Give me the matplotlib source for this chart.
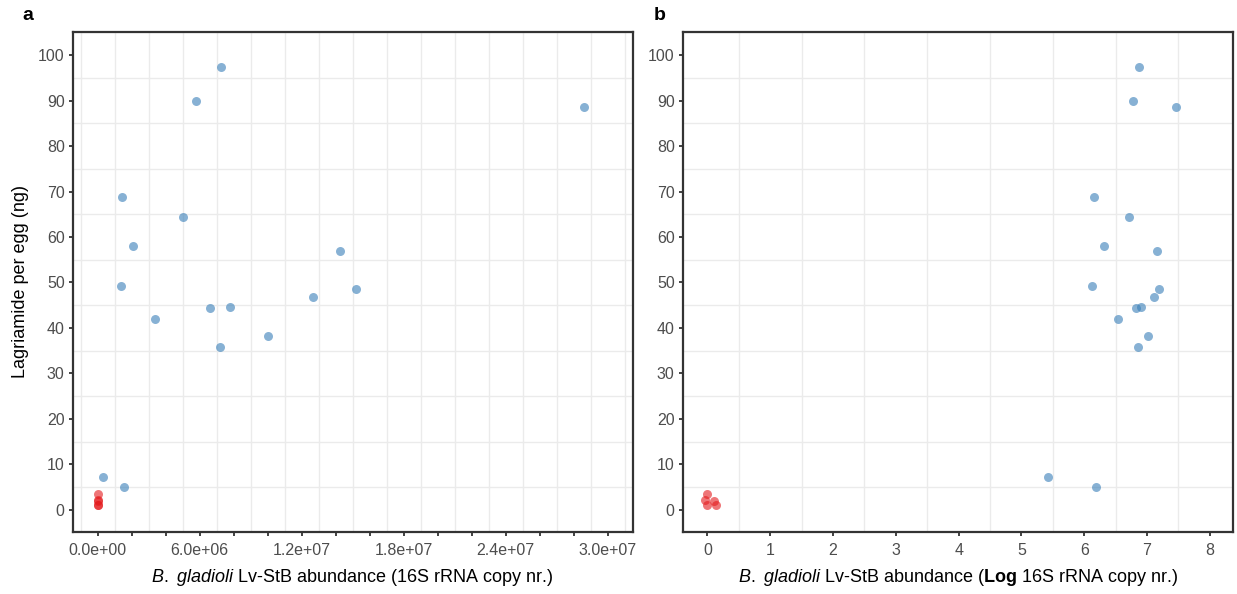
import numpy as np
import matplotlib.pyplot as plt
from matplotlib.ticker import FixedLocator, FuncFormatter

plt.rcParams['font.family'] = ['Liberation Sans', 'DejaVu Sans']
plt.rcParams['mathtext.fontset'] = 'custom'
plt.rcParams['mathtext.rm'] = 'Liberation Sans'
plt.rcParams['mathtext.it'] = 'Liberation Sans:italic'
plt.rcParams['mathtext.bf'] = 'Liberation Sans:bold'

# eggs with symbionts (blue): 16S copies, log10 copies, lagriamide (ng)
abundance = [7.24e6, 5.80e6, 28.6e6, 1.42e6, 5.01e6, 2.09e6, 14.26e6,
             1.37e6, 15.22e6, 12.69e6, 6.58e6, 7.76e6, 3.38e6, 10.03e6,
             7.17e6, 0.28e6, 1.57e6]
log_abundance = [6.87, 6.77, 7.46, 6.15, 6.71, 6.32, 7.16,
                 6.13, 7.19, 7.11, 6.82, 6.90, 6.54, 7.01,
                 6.86, 5.43, 6.19]
lagriamide = [97.3, 89.9, 88.6, 68.9, 64.3, 58.1, 57.0,
              49.3, 48.5, 46.8, 44.4, 44.6, 41.9, 38.3,
              35.9, 7.2, 5.0]

# aposymbiotic eggs (red)
apo_abundance = [0, 0, 0, 0, 0]
apo_log_abundance = [0.0, -0.04, 0.0, 0.10, 0.13]
apo_lagriamide = [3.4, 2.1, 1.0, 1.85, 1.05]

blue = '#377EB8'
red = '#E41A1C'
spine_col = '#333333'
grid_col = '#EBEBEB'

fig = plt.figure(figsize=(12.37, 5.94), dpi=100)
W, H = 1237, 594
ax_a = fig.add_axes([73 / W, 1 - 532 / H, (632.7 - 73) / W, 500 / H])
ax_b = fig.add_axes([683 / W, 1 - 532 / H, (1233 - 683) / W, 500 / H])


def style(ax):
    for s in ax.spines.values():
        s.set_color(spine_col)
        s.set_linewidth(1.6)
    ax.set_ylim(-4.9, 105.1)
    ax.yaxis.set_major_locator(FixedLocator(np.arange(0, 101, 10)))
    ax.yaxis.set_minor_locator(FixedLocator(np.arange(-5, 106, 10)))
    ax.grid(which='minor', color=grid_col, linewidth=1.0)
    ax.grid(which='major', visible=False)
    ax.tick_params(which='major', length=3, width=1.3, color=spine_col,
                   labelcolor='#4D4D4D', labelsize=11.5)
    ax.tick_params(axis='x', pad=5)
    ax.tick_params(axis='y', pad=3)
    ax.tick_params(which='minor', length=0)
    ax.set_axisbelow(True)


# panel a: raw copy numbers
ax_a.scatter(abundance, lagriamide, s=42, color=blue, alpha=0.6, linewidths=0, zorder=3)
ax_a.scatter(apo_abundance, apo_lagriamide, s=42, color=red, alpha=0.6, linewidths=0, zorder=3)
ax_a.set_xlim(-1.46e6, 31.48e6)
ax_a.xaxis.set_major_locator(FixedLocator(np.arange(0, 30.1e6, 2e6)))
ax_a.xaxis.set_minor_locator(FixedLocator(np.arange(-1e6, 31.1e6, 2e6)))
ax_a.xaxis.set_major_formatter(FuncFormatter(
    lambda v, pos: f'{v:.1e}' if round(v / 2e6) % 3 == 0 else ''))
style(ax_a)

# panel b: log copy numbers
ax_b.scatter(log_abundance, lagriamide, s=42, color=blue, alpha=0.6, linewidths=0, zorder=3)
ax_b.scatter(apo_log_abundance, apo_lagriamide, s=42, color=red, alpha=0.6, linewidths=0, zorder=3)
ax_b.set_xlim(-0.39, 8.37)
ax_b.xaxis.set_major_locator(FixedLocator(np.arange(0, 9, 1)))
ax_b.xaxis.set_minor_locator(FixedLocator(np.arange(-0.5, 8.6, 1)))
style(ax_b)

fig.text(21 / W, 1 - 282 / H, 'Lagriamide per egg (ng)', rotation=90,
         ha='center', va='center', fontsize=13)
fig.text(352.5 / W, 1 - 578 / H,
         r'$\it{B.}$ $\it{gladioli}$ Lv-StB abundance (16S rRNA copy nr.)',
         ha='center', va='center', fontsize=13)
fig.text(958 / W, 1 - 578 / H,
         r'$\it{B.}$ $\it{gladioli}$ Lv-StB abundance ($\bf{Log}$ 16S rRNA copy nr.)',
         ha='center', va='center', fontsize=13)

fig.text(28 / W, 1 - 15 / H, 'a', fontsize=14, fontweight='bold', ha='center', va='center')
fig.text(660 / W, 1 - 15 / H, 'b', fontsize=14, fontweight='bold', ha='center', va='center')

fig.savefig('out.png', dpi=100)
